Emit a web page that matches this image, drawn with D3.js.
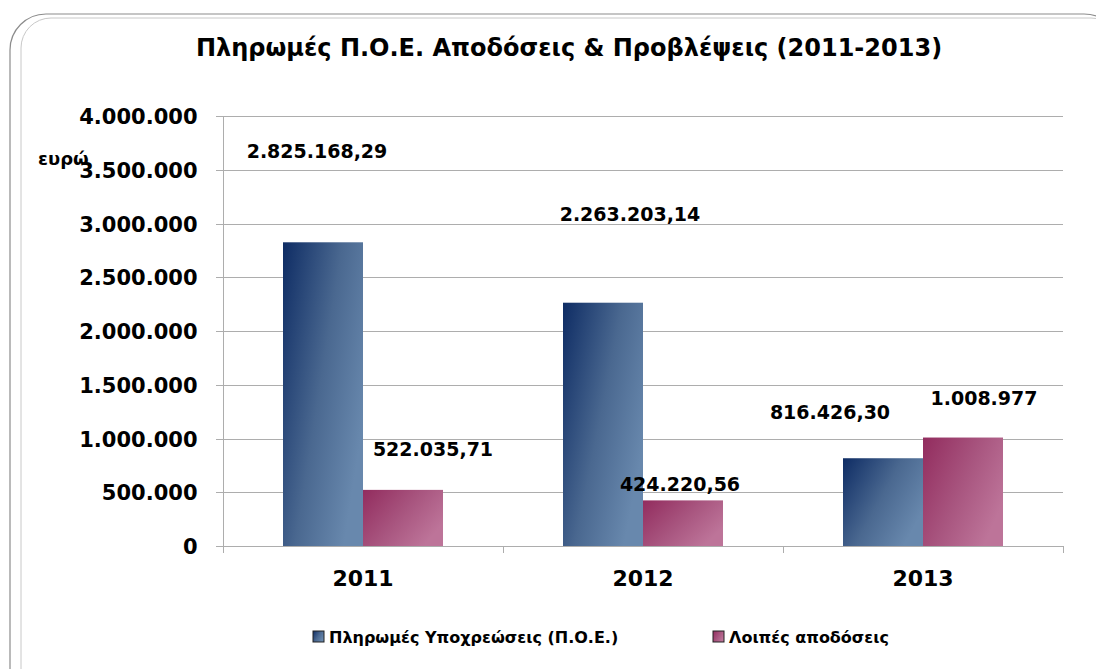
<!DOCTYPE html>
<html>
<head>
<meta charset="utf-8">
<script src="https://cdn.jsdelivr.net/npm/d3@7"></script>
<style>
	body { margin: 0; background: #fff; }
	text { font-family: "DejaVu Sans", Verdana, sans-serif; font-weight: bold; fill: #000; }
</style>
</head>
<body>
<div id="ChartView"></div>
<script>

var years = ["2011", "2012", "2013"];
var seriesNames = ["Πληρωμές Υποχρεώσεις (Π.Ο.Ε.)", "Λοιπές αποδόσεις"];
var poeValues = [2825168.29, 2263203.14, 816426.30];
var otherValues = [522035.71, 424220.56, 1008977];
var poeLabels = ["2.825.168,29", "2.263.203,14", "816.426,30"];
var otherLabels = ["522.035,71", "424.220,56", "1.008.977"];
var yTicks = [0, 500000, 1000000, 1500000, 2000000, 2500000, 3000000, 3500000, 4000000];
var titleText = "Πληρωμές Π.Ο.Ε. Αποδόσεις & Προβλέψεις (2011-2013)";
var unitText = "ευρώ";

// label nudges (px) as seen in the original layout
var poeNudge = [[-6, -91], [27, -89], [-53, -46]];
var otherNudge = [[30, -41], [-3, -16], [21, -40]];

BarChart = function(){

	this.svg = null;
	this.init();
};

BarChart.prototype.init = function(){

	this.svg = d3.select(BarChart.div)
				.append("svg")
				.attr("width", BarChart.width)
				.attr("height", BarChart.height);

	var defs = this.svg.append("defs");
	this.addGradient(defs, "gradBlue", "#0e2c64", "#4a6890", "#6888ad");
	this.addGradient(defs, "gradPink", "#922c5e", "#a8557f", "#bd7499");
};

BarChart.prototype.addGradient = function(defs, id, c0, c1, c2){

	var g = defs.append("linearGradient")
				.attr("id", id)
				.attr("x1", "0%").attr("y1", "0%")
				.attr("x2", "100%").attr("y2", "60%");
	g.append("stop").attr("offset", "0%").attr("stop-color", c0);
	g.append("stop").attr("offset", "55%").attr("stop-color", c1);
	g.append("stop").attr("offset", "100%").attr("stop-color", c2);
};

BarChart.prototype.render = function(){

	var svg = this.svg;

	// frame
	svg.append("rect")
		.attr("x", 10).attr("y", 14)
		.attr("width", 1110).attr("height", 700)
		.attr("rx", 36).attr("ry", 36)
		.attr("fill", "none")
		.attr("stroke", "#8c8c8c")
		.attr("stroke-width", 1.2);
	svg.append("rect")
		.attr("x", 21).attr("y", 18)
		.attr("width", 1100).attr("height", 700)
		.attr("rx", 30).attr("ry", 30)
		.attr("fill", "none")
		.attr("stroke", "#c8c8c8")
		.attr("stroke-width", 1);

	svg.append("text")
		.attr("x", 569).attr("y", 56)
		.attr("text-anchor", "middle")
		.style("font-size", "24px")
		.text(titleText);

	var x = d3.scaleBand().domain(years).range([223, 1063]).padding(0);
	var y = d3.scaleLinear().domain([0, 4000000]).range([546, 116]);
	var barW = 80;

	// gridlines
	svg.append("g")
		.selectAll("line")
		.data(yTicks)
		.enter()
		.append("line")
		.attr("x1", 216).attr("x2", 1063)
		.attr("y1", function(d){ return Math.round(y(d)) + 0.5; })
		.attr("y2", function(d){ return Math.round(y(d)) + 0.5; })
		.attr("stroke", "#adadad");

	var yAxis = svg.append("g")
		.attr("transform", "translate(223.5,0)")
		.call(d3.axisLeft(y).tickValues(yTicks).tickSize(0).tickPadding(26)
			.tickFormat(function(d){ return d3.format(",")(d).replace(/,/g, "."); }));
	yAxis.select(".domain").attr("stroke", "#adadad").attr("d", "M0,116V553");
	yAxis.selectAll("text").style("font-size", "21px").attr("dy", "0.36em");

	var xAxis = svg.append("g")
		.attr("transform", "translate(0,546.5)")
		.call(d3.axisBottom(x).tickSize(0).tickPadding(24));
	xAxis.select(".domain").remove();
	xAxis.selectAll("text").style("font-size", "22px");
	svg.append("g")
		.selectAll("line")
		.data([223, 503, 783, 1063])
		.enter()
		.append("line")
		.attr("x1", function(d){ return d + 0.5; })
		.attr("x2", function(d){ return d + 0.5; })
		.attr("y1", 546).attr("y2", 553)
		.attr("stroke", "#adadad");

	svg.append("text")
		.attr("x", 38).attr("y", 165)
		.style("font-size", "18px")
		.text(unitText);

	// bars
	var rows = years.map(function(yr, i){
		return {year: yr, poe: poeValues[i], other: otherValues[i], poeLabel: poeLabels[i], otherLabel: otherLabels[i], i: i};
	});

	var groups = svg.append("g")
		.selectAll("g")
		.data(rows)
		.enter()
		.append("g");

	groups.append("rect")
		.attr("x", function(d){ return x(d.year) + x.bandwidth()/2 - barW; })
		.attr("y", function(d){ return y(d.poe); })
		.attr("width", barW)
		.attr("height", function(d){ return y(0) - y(d.poe); })
		.attr("fill", "url(#gradBlue)");

	groups.append("rect")
		.attr("x", function(d){ return x(d.year) + x.bandwidth()/2; })
		.attr("y", function(d){ return y(d.other); })
		.attr("width", barW)
		.attr("height", function(d){ return y(0) - y(d.other); })
		.attr("fill", "url(#gradPink)");

	groups.append("text")
		.attr("text-anchor", "middle")
		.attr("x", function(d){ return x(d.year) + x.bandwidth()/2 - barW/2 + poeNudge[d.i][0]; })
		.attr("y", function(d){ return y(d.poe) + poeNudge[d.i][1] + 7; })
		.style("font-size", "19px")
		.text(function(d){ return d.poeLabel; });

	groups.append("text")
		.attr("text-anchor", "middle")
		.attr("x", function(d){ return x(d.year) + x.bandwidth()/2 + barW/2 + otherNudge[d.i][0]; })
		.attr("y", function(d){ return y(d.other) + otherNudge[d.i][1] + 7; })
		.style("font-size", "19px")
		.text(function(d){ return d.otherLabel; });

	// legend
	var legend = svg.append("g");
	var items = [{name: seriesNames[0], fill: "url(#gradBlue)", x: 313}, {name: seriesNames[1], fill: "url(#gradPink)", x: 713}];
	var li = legend.selectAll("g").data(items).enter().append("g")
		.attr("transform", function(d){ return "translate(" + d.x + ",631)"; });
	li.append("rect")
		.attr("width", 11).attr("height", 11)
		.attr("fill", function(d){ return d.fill; })
		.attr("stroke", "#222").attr("stroke-width", 1);
	li.append("text")
		.attr("x", 16).attr("y", 12)
		.style("font-size", "16px")
		.text(function(d){ return d.name; });

	console.log("render done");
};

BarChart.width = 1096;
BarChart.height = 669;
BarChart.div = "#ChartView";

var chart = new BarChart();
chart.render();

</script>
</body>
</html>
